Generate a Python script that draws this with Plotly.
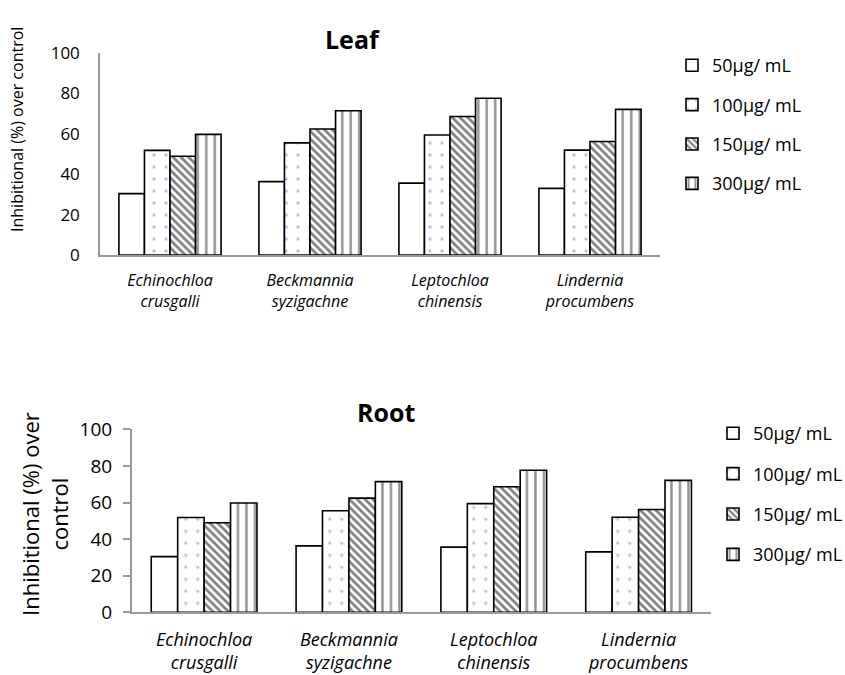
import plotly.graph_objects as go

# Weed species (category axis) and herbicide concentrations (series)
species = ["Echinochloa<br>crusgalli", "Beckmannia<br>syzigachne",
           "Leptochloa<br>chinensis", "Lindernia<br>procumbens"]
doses = ["50μg/ mL", "100μg/ mL", "150μg/ mL", "300μg/ mL"]

# Inhibition (%) over control, one list per concentration
leaf_50 = [30.4, 36.3, 35.6, 33.0]
leaf_100 = [51.8, 55.5, 59.4, 51.9]
leaf_150 = [48.9, 62.4, 68.6, 56.2]
leaf_300 = [59.7, 71.4, 77.6, 72.1]

root_50 = [30.4, 36.3, 35.6, 33.0]
root_100 = [51.8, 55.5, 59.4, 51.9]
root_150 = [48.9, 62.4, 68.6, 56.2]
root_300 = [59.7, 71.4, 77.6, 72.1]

y_ticks = [0, 20, 40, 60, 80, 100]

FONT = "'Open Sans', sans-serif"

# fill styles: plain, dotted, back-slash hatch, vertical stripes
patterns = [
    dict(shape=""),
    dict(shape=".", fgcolor="#5b8fd6", bgcolor="white", size=12, solidity=0.06, fillmode="overlay"),
    dict(shape="\\", fgcolor="black", bgcolor="white", size=5.5, solidity=0.5, fillmode="overlay"),
    dict(shape="|", fgcolor="#222222", bgcolor="white", size=8.5, solidity=0.28, fillmode="overlay"),
]

fig = go.Figure()

leaf_sets = [leaf_50, leaf_100, leaf_150, leaf_300]
root_sets = [root_50, root_100, root_150, root_300]
cat_idx = list(range(len(species)))

for i, (name, vals) in enumerate(zip(doses, leaf_sets)):
    fig.add_trace(go.Bar(
        x=cat_idx, y=vals, name=name, xaxis="x", yaxis="y",
        marker=dict(color="white", line=dict(color="black", width=1.6), pattern=patterns[i]),
        legend="legend", legendgroup=f"leaf{i}",
    ))

for i, (name, vals) in enumerate(zip(doses, root_sets)):
    fig.add_trace(go.Bar(
        x=cat_idx, y=vals, name=name, xaxis="x2", yaxis="y2",
        marker=dict(color="white", line=dict(color="black", width=1.6), pattern=patterns[i]),
        legend="legend2", legendgroup=f"root{i}",
    ))

ticktext = [f"<i>{s}</i>" for s in species]

fig.update_layout(
    width=845, height=675,
    margin=dict(l=0, r=0, t=0, b=0, autoexpand=False),
    paper_bgcolor="white", plot_bgcolor="white",
    font=dict(family=FONT, color="black"),
    barmode="group", bargap=0.27, bargroupgap=0,
    showlegend=True,
    xaxis=dict(
        domain=[100 / 845, 660 / 845], anchor="y", automargin=False,
        tickmode="array", tickvals=cat_idx, ticktext=ticktext,
        range=[-0.5, 3.5], showline=True, linecolor="#999999", linewidth=1.5,
        ticks="", tickfont=dict(size=16), showgrid=False, zeroline=False,
        ticklabelstandoff=10,
    ),
    yaxis=dict(
        domain=[(675 - 255) / 675, (675 - 53) / 675], anchor="x", automargin=False,
        range=[0, 100], tickvals=y_ticks, showline=True, linecolor="#999999",
        linewidth=1.5, ticks="", tickfont=dict(size=17), showgrid=False,
        zeroline=False, ticklabelstandoff=15,
    ),
    xaxis2=dict(
        domain=[131.7 / 845, 711 / 845], anchor="y2", automargin=False,
        tickmode="array", tickvals=cat_idx, ticktext=ticktext,
        range=[-0.5, 3.5], showline=True, linecolor="#999999", linewidth=1.5,
        ticks="", tickfont=dict(size=18), showgrid=False, zeroline=False,
        ticklabelstandoff=10,
    ),
    yaxis2=dict(
        domain=[(675 - 612.3) / 675, (675 - 429.3) / 675], anchor="x2", automargin=False,
        range=[0, 100], tickvals=y_ticks, showline=True, linecolor="#999999",
        linewidth=1.5, ticks="outside", ticklen=7, tickcolor="#999999", tickwidth=1.5,
        tickfont=dict(size=19), showgrid=False, zeroline=False, ticklabelstandoff=7,
    ),
    legend=dict(
        x=672 / 845, y=(675 - 47) / 675, xanchor="left", yanchor="top",
        font=dict(size=18), tracegroupgap=13, bgcolor="rgba(0,0,0,0)",
        itemwidth=30,
    ),
    legend2=dict(
        x=713 / 845, y=(675 - 415) / 675, xanchor="left", yanchor="top",
        font=dict(size=18), tracegroupgap=14, bgcolor="rgba(0,0,0,0)",
        itemwidth=30,
    ),
    annotations=[
        dict(text="<b>Leaf</b>", x=352 / 845, y=(675 - 39) / 675, xref="paper", yref="paper",
             showarrow=False, font=dict(size=25), xanchor="center", yanchor="middle"),
        dict(text="<b>Root</b>", x=386 / 845, y=(675 - 412) / 675, xref="paper", yref="paper",
             showarrow=False, font=dict(size=25), xanchor="center", yanchor="middle"),
        dict(text="Inhibitional (%) over control", x=17 / 845, y=(675 - 130) / 675,
             xref="paper", yref="paper", showarrow=False, textangle=-90,
             font=dict(size=16), xanchor="center", yanchor="middle"),
        dict(text="Inhibitional (%) over<br>control", x=44 / 845, y=(675 - 514) / 675,
             xref="paper", yref="paper", showarrow=False, textangle=-90,
             font=dict(size=22), xanchor="center", yanchor="middle"),
    ],
)

fig.write_html("out.html")
